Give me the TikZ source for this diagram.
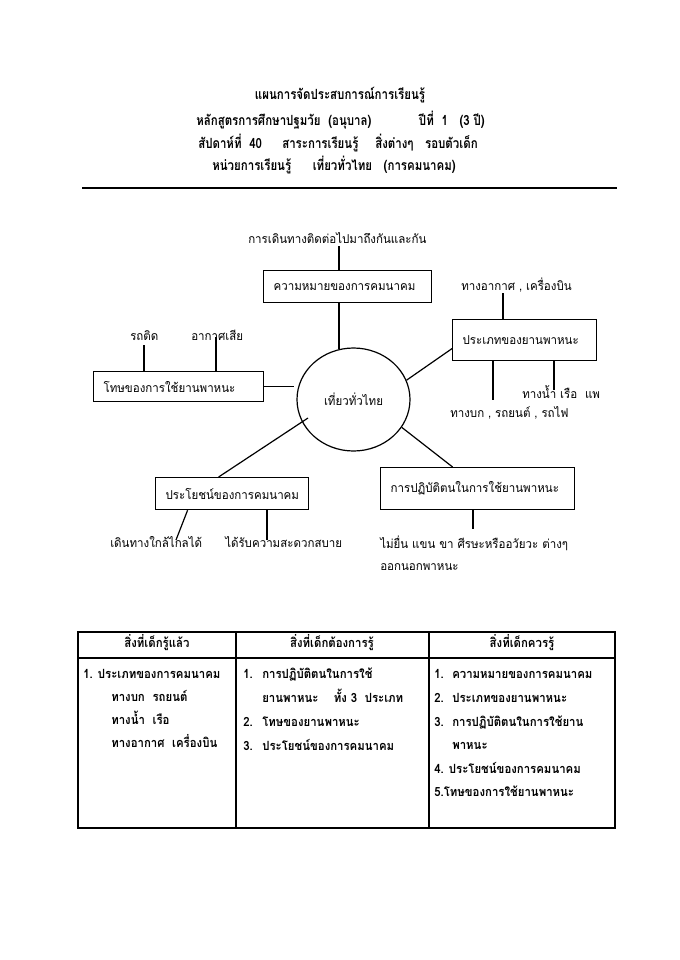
\documentclass[tikz,border=0pt]{standalone}
\usepackage{fontspec}
\newfontfamily\thai[Script=Thai, FakeStretch=0.94]{Loma}
\newfontfamily\thaiT[Script=Thai, FakeStretch=0.82]{Loma}
\newfontfamily\thaiB[Script=Thai, FakeStretch=0.9]{Loma}
\usetikzlibrary{shapes.geometric,calc}
\begin{document}
\begin{tikzpicture}[x=0.75pt,y=-0.75pt,
  dfont/.style={font=\thai\fontsize{9.2}{11}\selectfont},
  lbl/.style={dfont, inner sep=0pt, anchor=base west},
  hdr/.style={font=\thaiT\bfseries\fontsize{10.5}{12}\selectfont, inner sep=0pt, anchor=base west},
  tbl/.style={font=\thaiB\bfseries\fontsize{9.5}{11}\selectfont, inner sep=0pt, anchor=base west},
  box/.style={draw, line width=0.9pt, dfont, align=left, inner xsep=7.5pt, inner ysep=0pt, anchor=north west},
  conn/.style={line width=0.9pt}]
\fill[white] (0,0) rectangle (679,960);
\useasboundingbox (0,0) rectangle (679,960);
% title
\node[hdr, anchor=base] (h1) at (340,99) {แผนการจัดประสบการณ์การเรียนรู้};
\node[hdr] (h2a) at (196,125) {หลักสูตรการศึกษาปฐมวัย\ \ (อนุบาล)};
\node[hdr, anchor=base east] (h2b) at (485,125) {ปีที่\ \ 1\ \ \ (3 ปี)};
\node[hdr] (h3a) at (198,148) {สัปดาห์ที่\ \ 40};
\node[hdr] (h3b) at (282,148) {สาระการเรียนรู้};
\node[hdr, anchor=base east] (h3c) at (478,148) {สิ่งต่างๆ\ \ \ รอบตัวเด็ก};
\node[hdr] (h4a) at (212,170) {หน่วยการเรียนรู้};
\node[hdr, anchor=base east] (h4b) at (456,170) {เที่ยวทั่วไทย\ \ \ (การคมนาคม)};
\draw[line width=1.2pt] (82,188) -- (617,188);
% diagram
\node[lbl] (tmean) at (248,243) {การเดินทางติดต่อไปมาถึงกันและกัน};
\node[box, text width=111pt, minimum height=24pt] (b1) at (263,270) {ความหมายของการคมนาคม};
\node[lbl] (tair) at (461,290) {ทางอากาศ , เครื่องบิน};
\node[box, text width=93pt, minimum height=30.75pt] (b2) at (452,319) {ประเภทของยานพาหนะ};
\node[lbl] (twater) at (522,398) {ทางน้ำ เรือ\ \ แพ};
\node[lbl] (tland) at (450,417) {ทางบก , รถยนต์ , รถไฟ};
\node[lbl] (tjam) at (130,340) {รถติด};
\node[lbl] (tpoll) at (191,340) {อากาศเสีย};
\node[box, text width=112.5pt, minimum height=22.5pt] (b3) at (93,371) {โทษของการใช้ยานพาหนะ};
\node[draw, ellipse, line width=0.9pt, minimum width=84.75pt, minimum height=77.25pt, inner sep=0pt, dfont] (circ) at (353.5,399.5) {เที่ยวทั่วไทย};
\node[box, text width=99.75pt, minimum height=24pt] (b4) at (155,477) {ประโยชน์ของการคมนาคม};
\node[box, text width=130.5pt, minimum height=31.5pt] (b5) at (380,467) {การปฏิบัติตนในการใช้ยานพาหนะ};
\node[lbl] (tfar) at (110,547) {เดินทางใกล้ไกลได้};
\node[lbl] (tconv) at (225,547) {ได้รับความสะดวกสบาย};
\node[lbl] (tlimb) at (380,548) {ไม่ยื่น แขน ขา ศีรษะหรืออวัยวะ ต่างๆ};
\node[lbl] (tout) at (380,570) {ออกนอกพาหนะ};
% connectors
\coordinate (a1) at (339,246);
\draw[conn] (a1) -- (a1 |- b1.north);
\draw[conn] (circ.106 |- b1.south) -- (circ.106);
\coordinate (a2) at (503,293);
\draw[conn] (a2) -- (a2 |- b2.north);
\coordinate (a3) at (493,400);
\draw[conn] (a3 |- b2.south) -- (a3);
\coordinate (a4) at (554,390);
\draw[conn] (a4 |- b2.south) -- (a4);
\draw[conn] (circ.20) -- ($(b2.west)+(0,8.5)$);
\coordinate (a5) at (144,345);
\draw[conn] (a5) -- (a5 |- b3.north);
\coordinate (a6) at (216,337);
\draw[conn] (a6) -- (a6 |- b3.north);
\draw[conn, shorten >=1.5pt] (b3.east) -- (b3.east -| circ.west);
\coordinate (a7) at (308,418);
\draw[conn] (a7) -- ($(b4.north)+(-13.5,0)$);
\coordinate (a8) at (176,540);
\draw[conn] ($(b4.south)+(-44.5,0)$) -- (a8);
\coordinate (a9) at (267,540);
\draw[conn] (a9 |- b4.south) -- (a9);
\draw[conn] (circ.330) -- ($(b5.north)+(-25,0)$);
\coordinate (a10) at (473,529);
\draw[conn] (a10 |- b5.south) -- (a10);
% table
\draw[line width=0.8pt] (78,632) rectangle (615,828);
\draw[line width=0.8pt] (78,658) -- (615,658);
\draw[line width=0.8pt] (236,632) -- (236,828);
\draw[line width=0.8pt] (429,632) -- (429,828);
\node[tbl, anchor=base] (th1) at (157,647) {สิ่งที่เด็กรู้แล้ว};
\node[tbl, anchor=base] (th2) at (332,647) {สิ่งที่เด็กต้องการรู้};
\node[tbl, anchor=base] (th3) at (522,647) {สิ่งที่เด็กควรรู้};
\node[tbl] (c1a) at (83,678) {1. ประเภทของการคมนาคม};
\node[tbl] (c1b) at (111,701) {ทางบก\ \ รถยนต์};
\node[tbl] (c1c) at (111,724) {ทางน้ำ\ \ เรือ};
\node[tbl] (c1d) at (111,747) {ทางอากาศ\ \ เครื่องบิน};
\node[tbl] (c2n1) at (243,678) {1.};
\node[tbl] (c2a) at (262,678) {การปฏิบัติตนในการใช้};
\node[tbl] (c2b) at (262,702) {ยานพาหนะ\ \ \ \ ทั้ง\ 3\ \ ประเภท};
\node[tbl] (c2n2) at (243,726) {2.};
\node[tbl] (c2c) at (262,726) {โทษของยานพาหนะ};
\node[tbl] (c2n3) at (243,750) {3.};
\node[tbl] (c2d) at (262,750) {ประโยชน์ของการคมนาคม};
\node[tbl] (c3n1) at (434,678) {1.};
\node[tbl] (c3a) at (452,678) {ความหมายของการคมนาคม};
\node[tbl] (c3n2) at (434,702) {2.};
\node[tbl] (c3b) at (452,702) {ประเภทของยานพาหนะ};
\node[tbl] (c3n3) at (434,726) {3.};
\node[tbl] (c3c) at (452,726) {การปฏิบัติตนในการใช้ยาน};
\node[tbl] (c3d) at (452,749) {พาหนะ};
\node[tbl] (c3e) at (434,773) {4. ประโยชน์ของการคมนาคม};
\node[tbl] (c3f) at (434,796) {5.โทษของการใช้ยานพาหนะ};
\end{tikzpicture}
\end{document}
